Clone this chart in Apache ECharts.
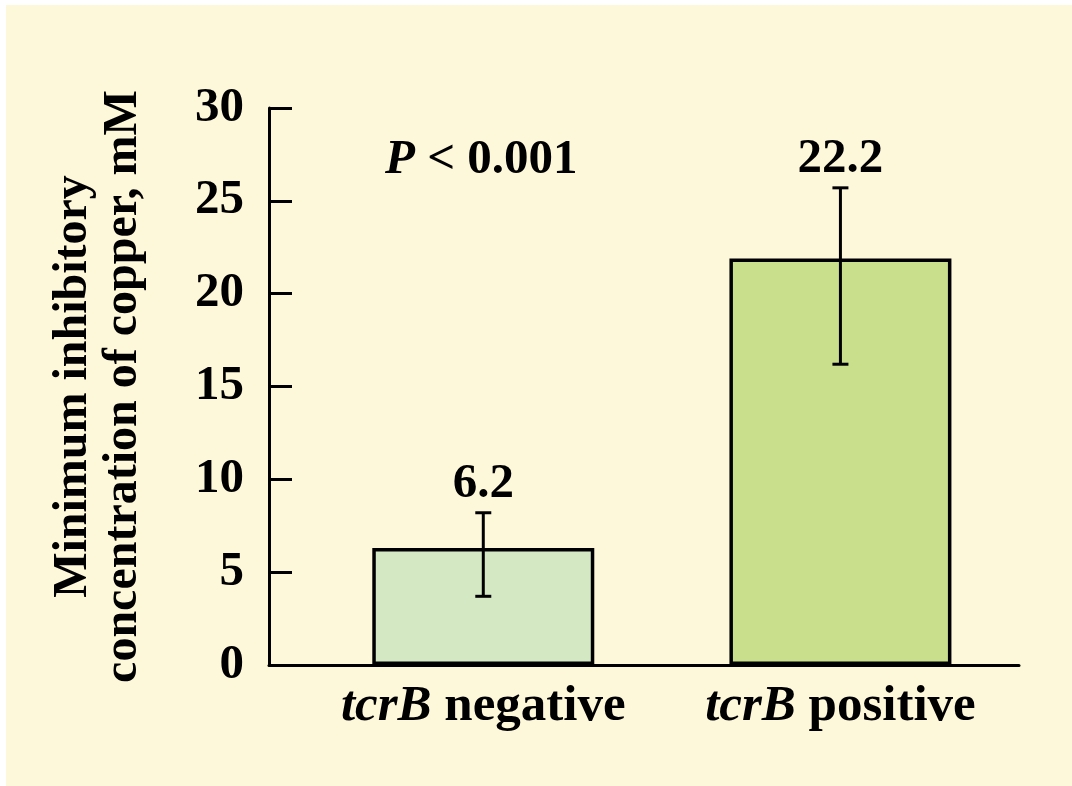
<!DOCTYPE html>
<html>
<head>
<meta charset="utf-8">
<script src="https://cdn.jsdelivr.net/npm/echarts@6/dist/echarts.min.js"></script>
<style>
html,body{margin:0;padding:0;background:#ffffff;width:1072px;height:786px;overflow:hidden;}
#chart{position:absolute;left:6px;top:5px;width:1066px;height:781px;}
</style>
</head>
<body>
<div id="chart"></div>
<script>
// ---- data ----
var categories = ['tcrB negative', 'tcrB positive'];
var categoryItalic = ['tcrB', 'tcrB'];
var categoryRest = ['negative', 'positive'];
var positions = [1, 2];
var means = [6.3, 21.9];
var errLow = [3.7, 16.2];
var errHigh = [8.2, 25.7];
var valueLabels = ['6.2', '22.2'];
var barColors = ['#D4E8C4', '#C9DF8C'];
var yTicks = [0, 5, 10, 15, 20, 25, 30];
var pText = '< 0.001';

var FONT = "'Liberation Serif', 'Times New Roman', serif";
var chart = echarts.init(document.getElementById('chart'), null, {renderer: 'canvas'});

var barData = positions.map(function (p, i) {
  return {value: [p, means[i]], itemStyle: {color: barColors[i]}};
});
var errData = positions.map(function (p, i) {
  return [p, errLow[i], errHigh[i], valueLabels[i]];
});

var option = {
  backgroundColor: '#FEF8DB',
  animation: false,
  title: {
    text: '{i|P} ' + pText,
    left: 374, top: 126,
    textStyle: {
      fontFamily: FONT, fontSize: 49, fontWeight: 'bold', color: '#000',
      rich: {i: {fontFamily: FONT, fontSize: 49, fontWeight: 'bold', fontStyle: 'italic', color: '#000'}}
    }
  },
  grid: {left: 263, right: 53, top: 103, bottom: 121, containLabel: false},
  xAxis: {
    type: 'value', min: 0.4, max: 2.5,
    axisLine: {show: true, lineStyle: {color: '#000', width: 3}},
    axisTick: {show: false},
    splitLine: {show: false},
    axisLabel: {
      customValues: positions,
      margin: 16,
      formatter: function (v) {
        var i = positions.indexOf(v);
        if (i < 0) return '';
        return '{i|' + categoryItalic[i] + '} ' + categoryRest[i];
      },
      fontFamily: FONT, fontSize: 51, fontWeight: 'bold', color: '#000',
      rich: {i: {fontFamily: FONT, fontSize: 51, fontWeight: 'bold', fontStyle: 'italic', color: '#000'}}
    }
  },
  yAxis: {
    type: 'value', min: 0, max: 30, interval: 5,
    name: 'Minimum inhibitory\nconcentration of copper, mM',
    nameLocation: 'middle',
    nameGap: 120,
    nameRotate: 90,
    nameTextStyle: {fontFamily: FONT, fontSize: 48, fontWeight: 'bold', color: '#000', lineHeight: 50},
    axisLine: {show: true, lineStyle: {color: '#000', width: 3}},
    axisTick: {show: true, inside: true, length: 23, lineStyle: {color: '#000', width: 3}},
    splitLine: {show: false},
    axisLabel: {margin: 25, fontFamily: FONT, fontSize: 49, fontWeight: 'bold', color: '#000'}
  },
  series: [
    {
      type: 'bar',
      data: barData,
      barWidth: 222,
      itemStyle: {borderColor: '#000', borderWidth: 3.5},
      z: 2
    },
    {
      type: 'custom',
      data: errData,
      z: 3,
      renderItem: function (params, api) {
        var x = api.value(0);
        var lo = api.coord([x, api.value(1)]);
        var hi = api.coord([x, api.value(2)]);
        var cap = 8;
        var st = {stroke: '#000', lineWidth: 3};
        return {
          type: 'group',
          children: [
            {type: 'line', shape: {x1: lo[0], y1: lo[1], x2: hi[0], y2: hi[1]}, style: st},
            {type: 'line', shape: {x1: hi[0] - cap, y1: hi[1], x2: hi[0] + cap, y2: hi[1]}, style: st},
            {type: 'line', shape: {x1: lo[0] - cap, y1: lo[1], x2: lo[0] + cap, y2: lo[1]}, style: st},
            {type: 'text', style: {
              text: valueLabels[params.dataIndex], x: hi[0], y: hi[1] - 4,
              align: 'center', verticalAlign: 'bottom',
              font: 'bold 49px ' + FONT, fill: '#000'
            }}
          ]
        };
      }
    }
  ]
};
chart.setOption(option);
</script>
</body>
</html>
